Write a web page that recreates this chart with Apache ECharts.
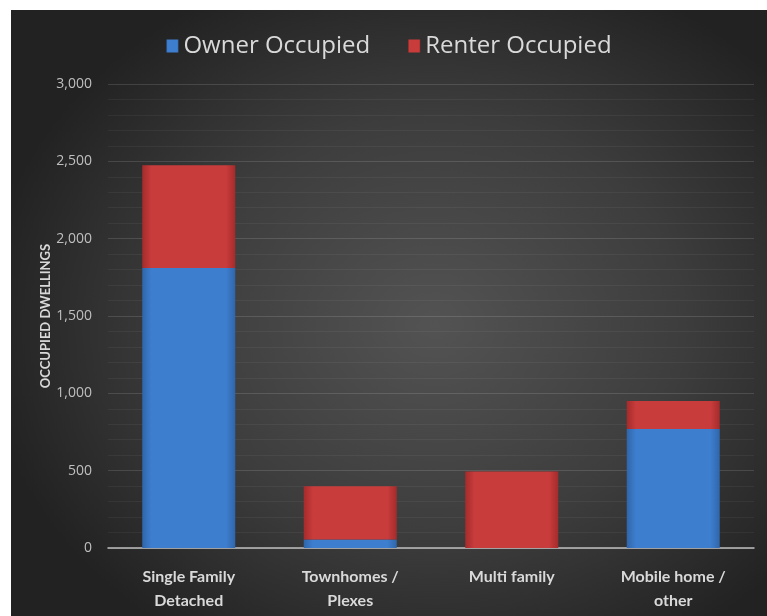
<!DOCTYPE html>
<html>
<head>
<meta charset="utf-8" />
<title>Occupied Dwellings</title>
<script src="https://cdn.jsdelivr.net/npm/echarts@6/dist/echarts.min.js"></script>
<style>
    html, body { margin: 0; padding: 0; background: #fff; }
    #chart {
        position: absolute; left: 11px; top: 10px;
        width: 756px; height: 606px;
        background: radial-gradient(ellipse 60% 62% at 56% 52%, #535353 0%, #3d3d3d 55%, #222 100%);
    }
</style>
</head>
<body>
<div id="chart"></div>
<script>
// data
var categories = ['Single Family\nDetached', 'Townhomes /\nPlexes', 'Multi family', 'Mobile home /\nother'];
var ownerOccupied = [1810, 55, 0, 770];
var renterOccupied = [665, 345, 495, 180];
var yTicks = [0, 500, 1000, 1500, 2000, 2500, 3000];

function barFill(edge, mid) {
    return new echarts.graphic.LinearGradient(0, 0, 1, 0, [
        {offset: 0, color: edge},
        {offset: 0.1, color: mid},
        {offset: 0.9, color: mid},
        {offset: 1, color: edge}
    ]);
}

var chart = echarts.init(document.getElementById('chart'));
chart.setOption({
    backgroundColor: 'transparent',
    legend: {
        top: 19,
        left: 'center',
        itemWidth: 12,
        itemHeight: 13,
        itemGap: 38,
        icon: 'rect',
        textStyle: {color: '#d9d9d9', fontSize: 24, fontFamily: 'Open Sans'},
        data: ['Owner Occupied', 'Renter Occupied']
    },
    grid: {left: 97, right: 13, top: 74, bottom: 68},
    xAxis: {
        type: 'category',
        data: categories,
        axisLine: {lineStyle: {color: '#bfbfbf', width: 1.5}},
        axisTick: {show: false},
        axisLabel: {
            color: '#d9d9d9', fontSize: 16, fontWeight: 'bold', fontFamily: 'Lato',
            lineHeight: 24, margin: 17, interval: 0
        }
    },
    yAxis: {
        type: 'value',
        min: yTicks[0],
        max: yTicks[yTicks.length - 1],
        interval: 500,
        name: 'OCCUPIED DWELLINGS',
        nameLocation: 'middle',
        nameGap: 56,
        nameMoveOverlap: false,
        nameTextStyle: {color: '#d9d9d9', fontSize: 13, fontWeight: 'bold', fontFamily: 'Lato'},
        axisLine: {show: false},
        axisTick: {show: false},
        axisLabel: {
            color: '#bfbfbf', fontSize: 14, fontFamily: 'Open Sans', margin: 16,
            formatter: function (v) { return v.toLocaleString('en-US'); }
        },
        splitLine: {lineStyle: {color: 'rgba(255,255,255,0.13)', width: 1}},
        minorTick: {show: false, splitNumber: 5},
        minorSplitLine: {show: true, lineStyle: {color: 'rgba(255,255,255,0.05)', width: 1}}
    },
    series: [
        {
            name: 'Owner Occupied',
            type: 'bar',
            stack: 'total',
            barWidth: 93,
            data: ownerOccupied,
            itemStyle: {
                color: barFill('#2f66aa', '#3e7ecf')
            }
        },
        {
            name: 'Renter Occupied',
            type: 'bar',
            stack: 'total',
            barWidth: 93,
            data: renterOccupied,
            itemStyle: {
                color: barFill('#a52b2b', '#c93c3c')
            }
        }
    ]
});
</script>
</body>
</html>
